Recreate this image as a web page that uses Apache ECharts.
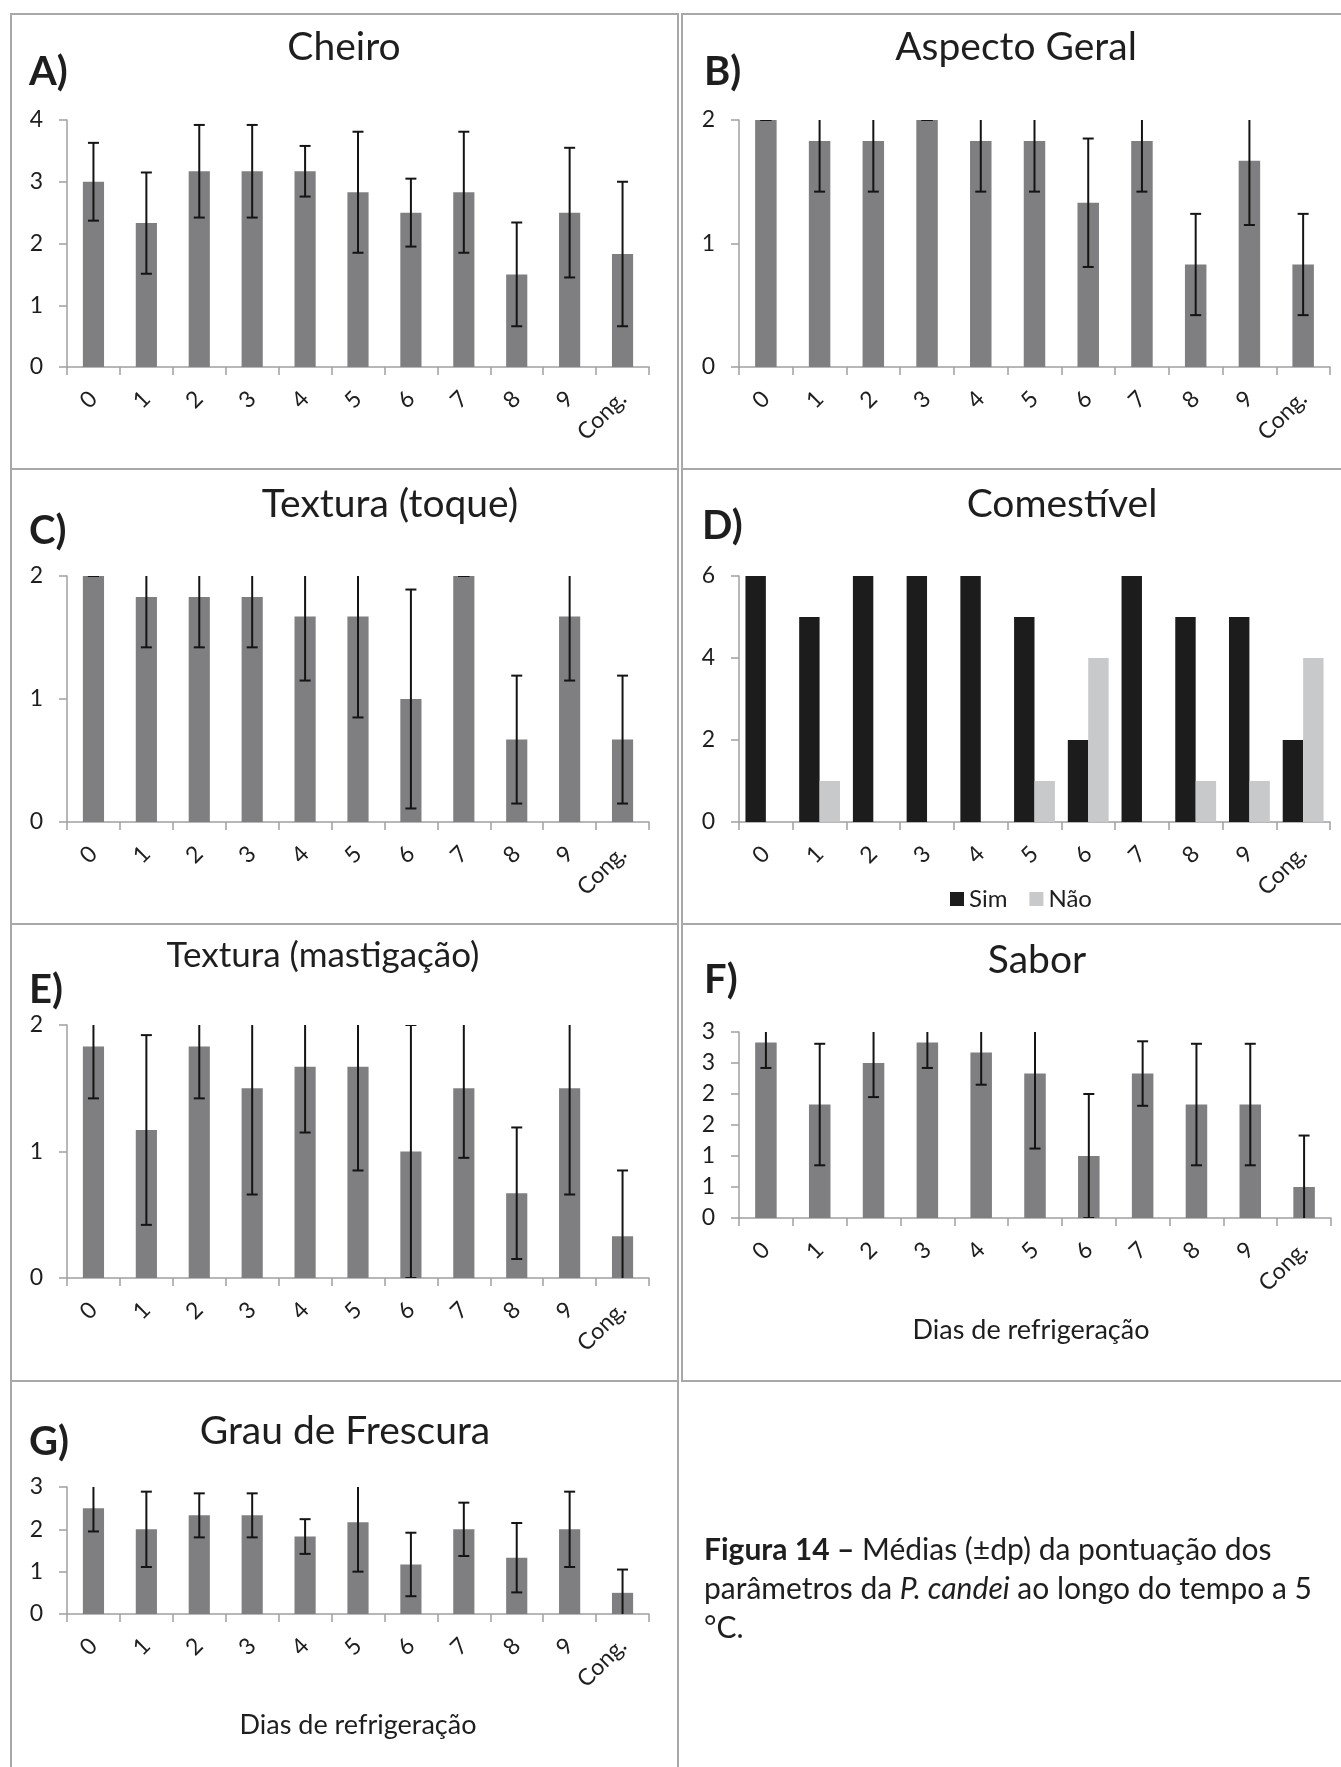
<!DOCTYPE html>
<html><head><meta charset="utf-8">
<script src="https://cdn.jsdelivr.net/npm/echarts@6/dist/echarts.min.js"></script>
<style>html,body{margin:0;padding:0;background:#fff}#c{width:1341px;height:1767px}</style>
</head><body><div id="c"></div>
<script>
// ---------------- DATA ----------------
const categories = ['0','1','2','3','4','5','6','7','8','9','Cong.'];

const cheiroMean   = [3.00,2.33,3.17,3.17,3.17,2.83,2.50,2.83,1.50,2.50,1.83];
const cheiroSd     = [0.63,0.82,0.75,0.75,0.41,0.98,0.55,0.98,0.84,1.05,1.17];

const aspectoMean  = [2.00,1.83,1.83,2.00,1.83,1.83,1.33,1.83,0.83,1.67,0.83];
const aspectoSd    = [0.00,0.41,0.41,0.00,0.41,0.41,0.52,0.41,0.41,0.52,0.41];

const toqueMean    = [2.00,1.83,1.83,1.83,1.67,1.67,1.00,2.00,0.67,1.67,0.67];
const toqueSd      = [0.00,0.41,0.41,0.41,0.52,0.82,0.89,0.00,0.52,0.52,0.52];

const comestivelSim = [6,5,6,6,6,5,2,6,5,5,2];
const comestivelNao = [0,1,0,0,0,1,4,0,1,1,4];

const mastigMean   = [1.83,1.17,1.83,1.50,1.67,1.67,1.00,1.50,0.67,1.50,0.33];
const mastigSd     = [0.41,0.75,0.41,0.84,0.52,0.82,1.00,0.55,0.52,0.84,0.52];

const saborMean    = [2.83,1.83,2.50,2.83,2.67,2.33,1.00,2.33,1.83,1.83,0.50];
const saborSd      = [0.41,0.98,0.55,0.41,0.52,1.21,1.00,0.52,0.98,0.98,0.83];

const frescuraMean = [2.50,2.00,2.33,2.33,1.83,2.17,1.17,2.00,1.33,2.00,0.50];
const frescuraSd   = [0.55,0.89,0.52,0.52,0.41,1.17,0.75,0.63,0.82,0.89,0.55];

const saborTickLabels = ['0','1','1','2','2','3','3'];
const legendNames = ['Sim','Não'];

// ---------------- LAYOUT / STYLE ----------------
const FONT = 'Lato, "Noto Sans", sans-serif';
const AXIS_COLOR = '#a0a0a0';
const TEXT_COLOR = '#1e1e1e';
const BAR_COLOR = '#7f7f82';
const TICK_FS = 23;

const panels = [
  {title:'Cheiro', letter:'A)', mean:cheiroMean, sd:cheiroSd, max:4, interval:1, tfs:39,
   grid:{left:67, top:120, width:582, height:247}, titlePos:[344,47], letterPos:[29,72]},
  {title:'Aspecto Geral', letter:'B)', mean:aspectoMean, sd:aspectoSd, max:2, interval:1, tfs:39,
   grid:{left:739, top:120, width:591, height:247}, titlePos:[1016,47], letterPos:[704,72]},
  {title:'Textura (toque)', letter:'C)', mean:toqueMean, sd:toqueSd, max:2, interval:1, tfs:39,
   grid:{left:67, top:576, width:582, height:246}, titlePos:[390,504], letterPos:[29,531]},
  {title:'Comestível', letter:'D)', counts:true, max:6, interval:2, tfs:39,
   grid:{left:739, top:576, width:591, height:246}, titlePos:[1062,504], letterPos:[702,526]},
  {title:'Textura (mastigação)', letter:'E)', mean:mastigMean, sd:mastigSd, max:2, interval:1, tfs:35,
   grid:{left:67, top:1025, width:582, height:253}, titlePos:[323,956], letterPos:[29,990]},
  {title:'Sabor', letter:'F)', mean:saborMean, sd:saborSd, max:3, interval:0.5, tickLabels:saborTickLabels, tfs:39,
   grid:{left:739, top:1032, width:592, height:186}, titlePos:[1037,960], letterPos:[704,980]},
  {title:'Grau de Frescura', letter:'G)', mean:frescuraMean, sd:frescuraSd, max:3, interval:1, tfs:39,
   grid:{left:67, top:1487, width:582, height:127}, titlePos:[345,1431], letterPos:[29,1442]}
];

const borders = [
  [11,14,667,455],[682,14,670,455],
  [11,469,667,455],[682,469,670,455],
  [11,924,667,457],[682,924,670,457],
  [11,1381,667,420]
];

function errRender(params, api) {
  const i = api.value(0), m = api.value(1), s = api.value(2);
  const top = api.coord([i, m + s]);
  const bot = api.coord([i, m - s]);
  const hw = 5.5;
  const st = {stroke:'#141414', lineWidth:2};
  return {type:'group', children:[
    {type:'line', shape:{x1:top[0], y1:top[1], x2:bot[0], y2:bot[1]}, style:st},
    {type:'line', shape:{x1:top[0]-hw, y1:top[1], x2:top[0]+hw, y2:top[1]}, style:st},
    {type:'line', shape:{x1:bot[0]-hw, y1:bot[1], x2:bot[0]+hw, y2:bot[1]}, style:st}
  ]};
}

const grids = [], xAxes = [], yAxes = [], series = [], graphics = [];

borders.forEach(b => graphics.push({type:'rect', shape:{x:b[0], y:b[1], width:b[2], height:b[3]},
  style:{fill:'none', stroke:'#a8a8a8', lineWidth:2}, silent:true}));

panels.forEach((p, k) => {
  grids.push(Object.assign({containLabel:false}, p.grid));
  xAxes.push({type:'category', gridIndex:k, data:categories, boundaryGap:true,
    axisLine:{lineStyle:{color:AXIS_COLOR, width:1.5}},
    axisTick:{show:true, interval:0, length:8, lineStyle:{color:AXIS_COLOR, width:1.5}},
    axisLabel:{interval:0, rotate:45, margin:28, fontSize:TICK_FS, fontFamily:FONT, color:TEXT_COLOR},
    splitLine:{show:false}});
  const yAx = {type:'value', gridIndex:k, min:0, max:p.max, interval:p.interval,
    axisLine:{show:true, lineStyle:{color:AXIS_COLOR, width:1.5}},
    axisTick:{show:true, length:8, lineStyle:{color:AXIS_COLOR, width:1.5}},
    axisLabel:{margin:24, fontSize:TICK_FS, fontFamily:FONT, color:TEXT_COLOR},
    splitLine:{show:false}};
  if (p.tickLabels) {
    const tl = p.tickLabels, iv = p.interval;
    yAx.axisLabel.formatter = v => tl[Math.round(v / iv)];
  }
  yAxes.push(yAx);

  if (p.counts) {
    series.push({name:legendNames[0], type:'bar', xAxisIndex:k, yAxisIndex:k, data:comestivelSim,
      barWidth:'38%', barGap:'0%', itemStyle:{color:'#1c1c1c'}});
    series.push({name:legendNames[1], type:'bar', xAxisIndex:k, yAxisIndex:k, data:comestivelNao,
      barWidth:'38%', barGap:'0%', itemStyle:{color:'#c8c9cb'}});
  } else {
    series.push({type:'bar', xAxisIndex:k, yAxisIndex:k, data:p.mean, barWidth:'40%',
      itemStyle:{color:BAR_COLOR}});
    series.push({type:'custom', xAxisIndex:k, yAxisIndex:k, clip:true, renderItem:errRender,
      encode:{x:0, y:1}, z:5,
      data:p.mean.map((m, i) => [i, m, p.sd[i]])});
  }

  graphics.push({type:'text', x:p.titlePos[0], y:p.titlePos[1], silent:true,
    style:{text:p.title, fontSize:p.tfs, fontFamily:FONT, fill:TEXT_COLOR, align:'center', verticalAlign:'middle'}});
  graphics.push({type:'text', x:p.letterPos[0], y:p.letterPos[1], silent:true,
    style:{text:p.letter, fontSize:40, fontWeight:'bold', fontFamily:FONT, fill:TEXT_COLOR, align:'left', verticalAlign:'middle'}});
});

// axis names
[[1031,1330],[358,1725]].forEach(pt => graphics.push({type:'text', x:pt[0], y:pt[1], silent:true,
  style:{text:'Dias de refrigeração', fontSize:27, fontFamily:FONT, fill:TEXT_COLOR, align:'center', verticalAlign:'middle'}}));

// caption
const CAP_FS = 30;
const capRich = {
  b:{fontWeight:'bold', fontSize:CAP_FS, fontFamily:FONT, fill:TEXT_COLOR},
  i:{fontStyle:'italic', fontSize:CAP_FS, fontFamily:FONT, fill:TEXT_COLOR}
};
[['{b|Figura 14 –} Médias (±dp) da pontuação dos',1550],
 ['parâmetros da {i|P. candei} ao longo do tempo a 5',1589],
 ['°C.',1628]].forEach(l => graphics.push({type:'text', x:704, y:l[1], silent:true,
  style:{text:l[0], rich:capRich, fontSize:CAP_FS, fontFamily:FONT, fill:TEXT_COLOR, align:'left', verticalAlign:'middle'}}));

const chart = echarts.init(document.getElementById('c'), null, {renderer:'canvas'});
chart.setOption({
  animation:false,
  backgroundColor:'#ffffff',
  textStyle:{fontFamily:FONT},
  grid:grids, xAxis:xAxes, yAxis:yAxes, series:series,
  legend:{data:legendNames, left:950, top:887, itemWidth:14, itemHeight:14, itemGap:22, icon:'rect',
    padding:0, textStyle:{fontSize:24, fontFamily:FONT, color:TEXT_COLOR}},
  graphic:graphics
});
</script>
</body></html>
